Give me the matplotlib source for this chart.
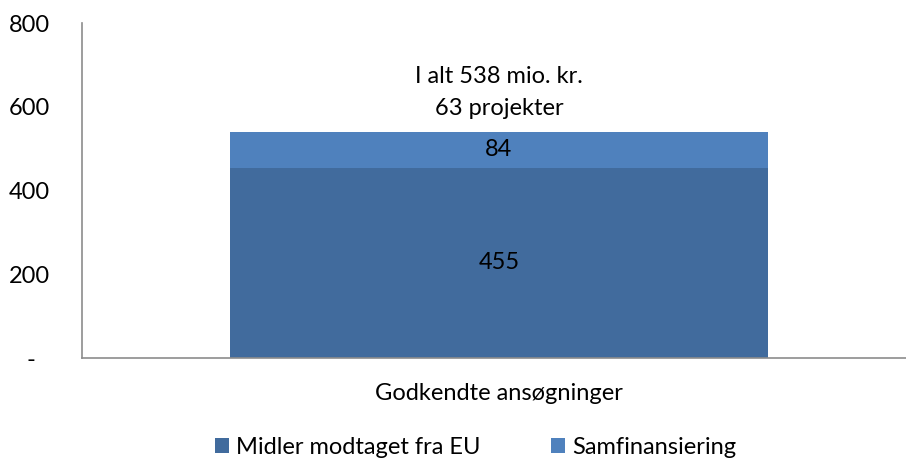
import matplotlib.pyplot as plt
import numpy as np

plt.rcParams['font.family'] = ['Lato', 'DejaVu Sans']

categories = ['Godkendte ansøgninger']
eu_funds = [455]
cofinancing = [84]
series_names = ['Midler modtaget fra EU', 'Samfinansiering']
note = 'I alt 538 mio. kr.\n63 projekter'
yticks = [0, 200, 400, 600, 800]
ytick_labels = ['-\u2007', '200', '400', '600', '800']

dark = '#416B9D'
light = '#4F81BD'
fs = 17

fig = plt.figure(figsize=(9.06, 4.61), dpi=100)
ax = fig.add_axes([0.0905, 0.2234, 0.9095, 0.7266])

x = np.arange(len(categories))
w = 0.653
b1 = ax.bar(x, eu_funds, width=w, color=dark, label=series_names[0])
b2 = ax.bar(x, cofinancing, width=w, bottom=eu_funds, color=light, label=series_names[1])

for i in range(len(categories)):
    ax.text(x[i], eu_funds[i] / 2, str(eu_funds[i]), ha='center', va='center', fontsize=fs)
    ax.text(x[i], eu_funds[i] + cofinancing[i] / 2, str(cofinancing[i]), ha='center', va='center', fontsize=fs)
    ax.text(x[i], 634, note, ha='center', va='center', fontsize=fs, linespacing=1.6)

ax.set_xlim(-0.506, 0.494)
ax.set_ylim(0, 800)
ax.set_yticks(yticks)
ax.set_yticklabels(ytick_labels, fontsize=fs)
ax.set_xticks(x)
ax.set_xticklabels(categories, fontsize=fs)
ax.tick_params(axis='y', length=0, pad=23)
ax.tick_params(axis='x', length=0, pad=18)
for s in ['top', 'right']:
    ax.spines[s].set_visible(False)
for s in ['left', 'bottom']:
    ax.spines[s].set_color('#8c8c8c')
    ax.spines[s].set_linewidth(1.2)

fig.legend(handles=[b1, b2], loc='center', bbox_to_anchor=(0.525, 0.03), ncol=2,
           frameon=False, fontsize=fs, handlelength=0.6, handleheight=0.6,
           handletextpad=0.3, columnspacing=3.0)

fig.savefig('out.png', dpi=100)
